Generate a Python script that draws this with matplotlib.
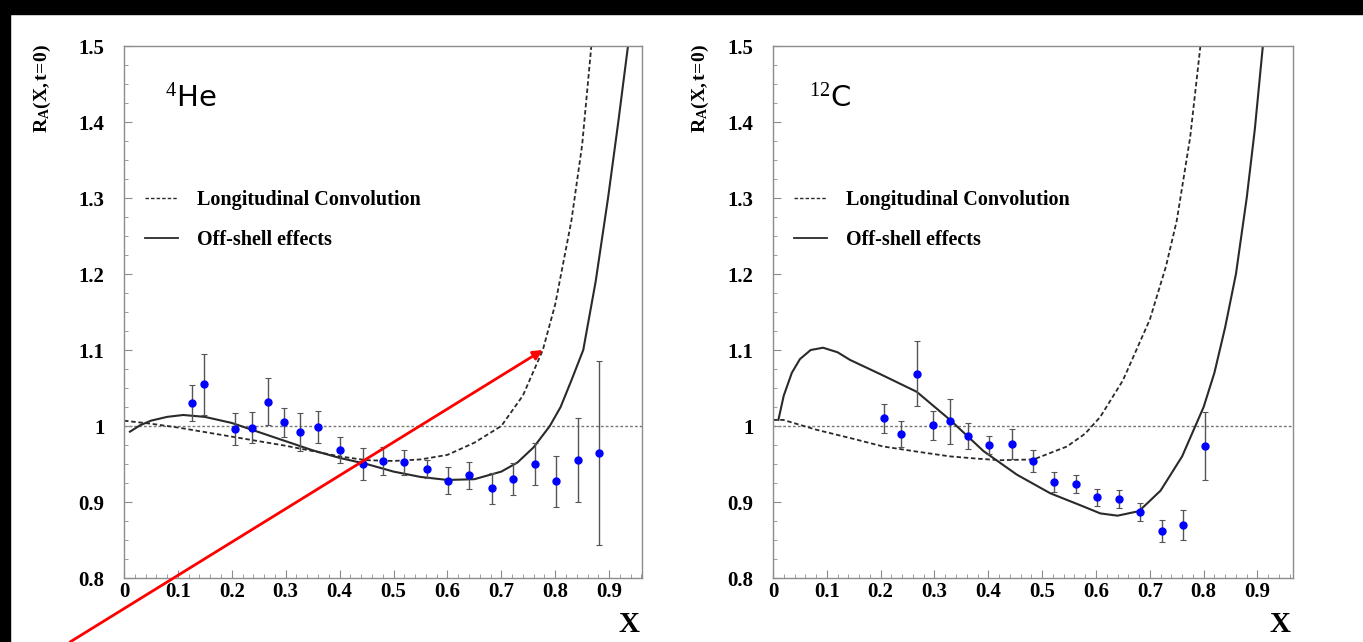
import numpy as np
import matplotlib.pyplot as plt
from matplotlib.lines import Line2D
from matplotlib.patches import Rectangle
from matplotlib.ticker import MultipleLocator, FixedLocator

plt.rcParams['font.family'] = ['Liberation Serif', 'DejaVu Serif']
plt.rcParams['mathtext.fontset'] = 'custom'
plt.rcParams['mathtext.rm'] = 'Liberation Serif'
plt.rcParams['mathtext.bf'] = 'Liberation Serif:bold'
plt.rcParams['mathtext.it'] = 'Liberation Serif:italic'

# ---- 4He data ----
he_x = [0.127, 0.148, 0.206, 0.237, 0.268, 0.296, 0.327, 0.360, 0.401, 0.443,
        0.481, 0.519, 0.563, 0.602, 0.640, 0.682, 0.722, 0.762, 0.802, 0.842, 0.882]
he_y = [1.030, 1.055, 0.996, 0.998, 1.032, 1.005, 0.992, 0.999, 0.968, 0.950,
        0.954, 0.952, 0.943, 0.928, 0.935, 0.918, 0.930, 0.950, 0.927, 0.955, 0.965]
he_err = [0.024, 0.040, 0.021, 0.020, 0.031, 0.019, 0.025, 0.021, 0.017, 0.021,
          0.018, 0.016, 0.012, 0.018, 0.018, 0.020, 0.021, 0.028, 0.033, 0.055, 0.121]

he_conv_x = [0.0, 0.05, 0.1, 0.2, 0.3, 0.4, 0.45, 0.5, 0.55, 0.6, 0.65, 0.7,
             0.74, 0.777, 0.8, 0.83, 0.85, 0.867]
he_conv_y = [1.007, 1.003, 0.998, 0.986, 0.974, 0.960, 0.955, 0.954, 0.956, 0.962,
             0.978, 1.000, 1.040, 1.100, 1.160, 1.270, 1.370, 1.500]

he_off_x = [0.011, 0.03, 0.05, 0.08, 0.11, 0.15, 0.2, 0.25, 0.3, 0.35, 0.4, 0.45,
            0.5, 0.55, 0.6, 0.65, 0.7, 0.73, 0.76, 0.79, 0.81, 0.83, 0.852, 0.875,
            0.898, 0.917, 0.935]
he_off_y = [0.9925, 1.001, 1.007, 1.012, 1.0145, 1.012, 1.004, 0.992, 0.980, 0.968,
            0.958, 0.950, 0.940, 0.933, 0.929, 0.930, 0.940, 0.952, 0.972, 1.000,
            1.025, 1.060, 1.100, 1.190, 1.300, 1.400, 1.500]

# ---- 12C data ----
c_x = [0.207, 0.238, 0.267, 0.297, 0.328, 0.363, 0.402, 0.444, 0.483, 0.522,
       0.563, 0.602, 0.642, 0.682, 0.722, 0.762, 0.802]
c_y = [1.010, 0.990, 1.069, 1.001, 1.006, 0.987, 0.975, 0.976, 0.954, 0.926,
       0.924, 0.906, 0.904, 0.887, 0.862, 0.870, 0.974]
c_err = [0.019, 0.017, 0.043, 0.019, 0.030, 0.017, 0.012, 0.020, 0.015, 0.013,
         0.012, 0.011, 0.012, 0.012, 0.014, 0.020, 0.045]

c_conv_x = [0.0, 0.019, 0.081, 0.15, 0.205, 0.27, 0.329, 0.38, 0.422, 0.484,
            0.546, 0.58, 0.608, 0.65, 0.7, 0.73, 0.75, 0.775, 0.794]
c_conv_y = [1.008, 1.008, 0.995, 0.983, 0.973, 0.966, 0.960, 0.957, 0.955, 0.956,
            0.973, 0.990, 1.012, 1.060, 1.140, 1.210, 1.270, 1.380, 1.500]

c_off_x = [0.010, 0.02, 0.035, 0.05, 0.07, 0.093, 0.12, 0.143, 0.2, 0.267, 0.329,
           0.391, 0.453, 0.515, 0.577, 0.608, 0.64, 0.68, 0.72, 0.76, 0.8, 0.82,
           0.84, 0.86, 0.88, 0.895, 0.91]
c_off_y = [1.008, 1.040, 1.070, 1.088, 1.100, 1.103, 1.097, 1.087, 1.068, 1.045,
           1.008, 0.967, 0.936, 0.9115, 0.894, 0.885, 0.882, 0.888, 0.915, 0.960,
           1.025, 1.070, 1.130, 1.200, 1.300, 1.390, 1.500]

x_ticks = [0, 0.1, 0.2, 0.3, 0.4, 0.5, 0.6, 0.7, 0.8, 0.9]
x_labels = ['0', '0.1', '0.2', '0.3', '0.4', '0.5', '0.6', '0.7', '0.8', '0.9']
y_ticks = [0.8, 0.9, 1.0, 1.1, 1.2, 1.3, 1.4, 1.5]
y_labels = ['0.8', '0.9', '1', '1.1', '1.2', '1.3', '1.4', '1.5']

fig = plt.figure(figsize=(13.63, 6.42), dpi=100)
fig.patch.set_facecolor('white')

# black scan border on top and left
fig.patches.append(Rectangle((0, 1 - 14 / 642), 1, 14 / 642, transform=fig.transFigure,
                             color='black', zorder=10))
fig.patches.append(Rectangle((0, 0), 10 / 1363, 1, transform=fig.transFigure,
                             color='black', zorder=10))

line_col = '#2a2a2a'
frame_col = '#8c8c8c'


def make_panel(rect, xmax, px, py, perr, cx, cy, ox, oy, label, lab_pos):
    ax = fig.add_axes(rect)
    ax.set_xlim(0, xmax)
    ax.set_ylim(0.8, 1.5)
    ax.axhline(1.0, color='#777777', lw=1.0, ls=(0, (2, 1.5)), zorder=1)
    ax.plot(cx, cy, color=line_col, lw=1.3, ls=(0, (2.5, 1.5)), zorder=2)
    ax.plot(ox, oy, color=line_col, lw=1.5, zorder=2)
    ax.errorbar(px, py, yerr=perr, fmt='o', color='#0000ff', ms=5, mec='#0000ff',
                ecolor='#555555', elinewidth=1.0, capsize=2.5, capthick=0.8, zorder=3)
    for s in ax.spines.values():
        s.set_color(frame_col)
        s.set_linewidth(1.0)
    ax.xaxis.set_major_locator(FixedLocator(x_ticks))
    ax.set_xticklabels(x_labels)
    ax.yaxis.set_major_locator(FixedLocator(y_ticks))
    ax.set_yticklabels(y_labels)
    ax.xaxis.set_minor_locator(MultipleLocator(0.02))
    ax.yaxis.set_minor_locator(MultipleLocator(0.025))
    ax.tick_params(which='both', direction='in', color=frame_col, top=False, right=False)
    ax.tick_params(which='major', length=6)
    ax.tick_params(which='minor', length=3)
    ax.tick_params(axis='x', pad=3, labelsize=15)
    ax.tick_params(axis='y', pad=14, labelsize=15)
    for t in ax.get_xticklabels() + ax.get_yticklabels():
        t.set_fontweight('bold')
    handles = [Line2D([], [], color=line_col, lw=1.0, ls=(0, (2.5, 1.5))),
               Line2D([], [], color=line_col, lw=1.3)]
    ax.legend(handles, ['Longitudinal Convolution', 'Off-shell effects'],
              loc='upper left', bbox_to_anchor=(0.04, 0.73), frameon=False,
              prop={'weight': 'bold', 'size': 14.5}, handlelength=1.65,
              handletextpad=0.95, labelspacing=1.0, borderpad=0, borderaxespad=0)
    ax.text(lab_pos[0], lab_pos[1], label, transform=ax.transAxes, fontsize=21,
            family=['DejaVu Sans'], va='center', ha='left')
    ax.text(0.995, -0.062, 'X', transform=ax.transAxes, fontsize=21, fontweight='bold',
            ha='right', va='top')
    return ax


ax1 = make_panel([124 / 1363, 64 / 642, 518 / 1363, 532 / 642], 0.961,
                 he_x, he_y, he_err, he_conv_x, he_conv_y, he_off_x, he_off_y,
                 r'$^{4}$He', (0.08, 0.9))
ax2 = make_panel([773 / 1363, 64 / 642, 520 / 1363, 532 / 642], 0.966,
                 c_x, c_y, c_err, c_conv_x, c_conv_y, c_off_x, c_off_y,
                 r'$^{12}$C', (0.07, 0.9))

for xpix in [42, 700]:
    fig.text(xpix / 1363, 1 - 44 / 642, r'$\mathbf{R_A(X,t\!=\!0)}$', rotation=90,
             ha='center', va='top', fontsize=14)

# red arrow drawn over the left panel
ax1.annotate('', xy=(0.777, 1.1), xycoords='data',
             xytext=(70, 0), textcoords='figure pixels',
             arrowprops=dict(arrowstyle='-|>', color='#ff0000', lw=2.0,
                             mutation_scale=14, shrinkA=0, shrinkB=0),
             annotation_clip=False, zorder=20)

fig.savefig('out.png', dpi=100)
